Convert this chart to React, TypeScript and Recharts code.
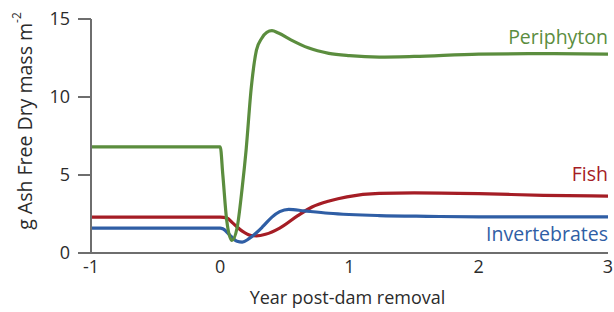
import { Line, LineChart, XAxis, YAxis } from "recharts";

// years after dam removal, and g AFDM m^-2 per group
const periphytonYears = [-1, 0, 0.02, 0.05, 0.09, 0.13, 0.17, 0.2, 0.24, 0.28, 0.32, 0.36, 0.4, 0.45, 0.55, 0.68, 0.84, 1.0, 1.23, 1.5, 2.0, 2.5, 3.0];
const periphytonValues = [6.8, 6.8, 5.0, 2.1, 0.8, 1.6, 4.2, 6.6, 10.6, 13.0, 13.75, 14.15, 14.25, 14.1, 13.65, 13.15, 12.8, 12.65, 12.56, 12.6, 12.75, 12.78, 12.75];

const fishYears = [-1, 0, 0.05, 0.1, 0.17, 0.24, 0.28, 0.35, 0.46, 0.6, 0.71, 0.85, 0.98, 1.23, 1.5, 2.0, 2.5, 3.0];
const fishValues = [2.3, 2.3, 2.25, 1.9, 1.4, 1.12, 1.1, 1.2, 1.6, 2.4, 2.95, 3.35, 3.6, 3.82, 3.85, 3.8, 3.7, 3.65];

const invertYears = [-1, 0, 0.02, 0.08, 0.13, 0.17, 0.22, 0.28, 0.33, 0.4, 0.46, 0.53, 0.65, 0.84, 1.23, 1.6, 2.0, 3.0];
const invertValues = [1.6, 1.6, 1.55, 1.1, 0.75, 0.7, 0.9, 1.3, 1.7, 2.3, 2.65, 2.8, 2.7, 2.55, 2.4, 2.35, 2.32, 2.32];

const xTicks = [-1, 0, 1, 2, 3];
const yTicks = [0, 5, 10, 15];

const FONT = "'Open Sans', 'Noto Sans', sans-serif";
const AXIS_COLOR = "#6e6e6e";
const TEXT_COLOR = "#2b2b2b";

const GREEN = "#5b8d3e";
const RED = "#a51d25";
const BLUE = "#2f5ea5";

const toPoints = (xs: number[], ys: number[]) => xs.map((x, i) => ({ x, y: ys[i] }));

function endLabel(text: string, color: string, count: number, dy: number) {
  return (props: any) => {
    if (props.index !== count - 1) return null;
    return (
      <text
        key={text}
        x={props.x}
        y={props.y + dy}
        textAnchor="end"
        fill={color}
        fontSize={19.5}
        fontFamily={FONT}
      >
        {text}
      </text>
    );
  };
}

export default function App() {
  const tick = { fill: TEXT_COLOR, fontSize: 18, fontFamily: FONT };
  return (
    <div style={{ position: "absolute", left: 0, top: 0, background: "#fff" }}>
      <LineChart width={614} height={312} margin={{ top: 19, right: 6, left: 51, bottom: 29 }}>
        <XAxis
          type="number"
          dataKey="x"
          domain={[-1, 3]}
          ticks={xTicks}
          tickLine={false}
          tickSize={0}
          tickMargin={7}
          tick={tick}
          stroke={AXIS_COLOR}
          strokeWidth={2}
          allowDataOverflow
          label={(p: any) => {
            const vb = p.viewBox;
            return (
              <text
                x={vb.x + vb.width / 2 - 2}
                y={vb.y + 51}
                textAnchor="middle"
                fill={TEXT_COLOR}
                fontSize={18}
                fontFamily={FONT}
              >
                Year post-dam removal
              </text>
            );
          }}
        />
        <YAxis
          type="number"
          dataKey="y"
          domain={[0, 15]}
          ticks={yTicks}
          width={40}
          tickSize={13}
          tickMargin={8}
          tick={tick}
          stroke={AXIS_COLOR}
          strokeWidth={2}
          label={(p: any) => {
            const vb = p.viewBox;
            const cx = 24;
            const cy = vb.y + vb.height / 2 - 15;
            return (
              <text
                x={cx}
                y={cy}
                transform={`rotate(-90 ${cx} ${cy})`}
                textAnchor="middle"
                dominantBaseline="central"
                fill={TEXT_COLOR}
                fontSize={19.5}
                fontFamily={FONT}
              >
                g Ash Free Dry mass m
                <tspan fontSize={12} dy={-8}>-2</tspan>
              </text>
            );
          }}
        />
        <Line
          data={toPoints(fishYears, fishValues)}
          dataKey="y"
          type="monotone"
          stroke={RED}
          strokeWidth={3.2}
          dot={false}
          isAnimationActive={false}
          label={endLabel("Fish", RED, fishYears.length, -15)}
        />
        <Line
          data={toPoints(invertYears, invertValues)}
          dataKey="y"
          type="monotone"
          stroke={BLUE}
          strokeWidth={3.2}
          dot={false}
          isAnimationActive={false}
          label={endLabel("Invertebrates", BLUE, invertYears.length, 24)}
        />
        <Line
          data={toPoints(periphytonYears, periphytonValues)}
          dataKey="y"
          type="monotone"
          stroke={GREEN}
          strokeWidth={3.2}
          dot={false}
          isAnimationActive={false}
          label={endLabel("Periphyton", GREEN, periphytonYears.length, -10)}
        />
      </LineChart>
    </div>
  );
}
